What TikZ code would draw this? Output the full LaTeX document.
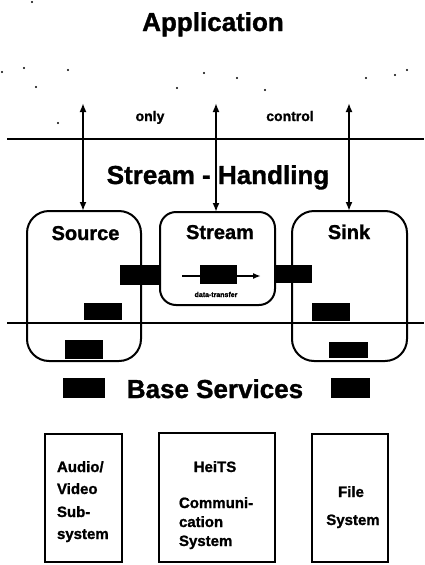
\documentclass[tikz,border=0pt]{standalone}
\usepackage{fontspec}
\setmainfont{Liberation Sans}[BoldFeatures={FakeBold=1.2}]
\usetikzlibrary{arrows.meta}
\begin{document}
\begin{tikzpicture}[x=1pt,y=-1pt,
  every node/.style={inner sep=0pt,outer sep=0pt},
  bigtext/.style={font=\fontsize{26}{30}\selectfont\bfseries,anchor=base},
  midtext/.style={font=\fontsize{20}{24}\selectfont\bfseries,anchor=base},
  smalltext/.style={font=\fontsize{14}{16}\selectfont\bfseries,anchor=base},
  boxtext/.style={font=\fontsize{15}{18}\selectfont\bfseries},
  tinytext/.style={font=\fontsize{7}{8}\selectfont\bfseries,anchor=base},
  procbox/.style={draw,line width=2pt,rounded corners=22pt},
  basebox/.style={draw,line width=2.2pt},
  blk/.style={fill=black},
  layer/.style={line width=2.5pt},
  ctrl/.style={line width=2pt,{Latex[length=9pt,width=7pt]}-{Latex[length=9pt,width=7pt]}},
  speck/.style={fill=black}
]
\fill[white] (0,0) rectangle (424,565);
\useasboundingbox (0,0) rectangle (424,565);

% title
\node[bigtext] (app) at (213,31) {Application};

% specks
\foreach \px/\py in {2/72,24/68,36/87,68/70,58/123,177/88,204/73,237/78,265/90,366/78,395/75,407/70,32/2}
  \fill[speck] (\px,\py) circle (1.2pt);

% layer lines
\coordinate (t1) at (7,139);
\coordinate (t2) at (424,139);
\coordinate (u1) at (7,323);
\coordinate (u2) at (424,323);
\draw[layer] (t1) -- (t2);
\draw[layer] (u1) -- (u2);

% control labels
\node[smalltext] (only) at (150,121) {only};
\node[smalltext] (control) at (290,121) {control};

\node[bigtext] (sh) at (218,184) {Stream - Handling};

% processing boxes
\node[procbox,minimum width=114pt,minimum height=150pt] (source) at (84,286) {};
\node[procbox,rounded corners=16pt,minimum width=115pt,minimum height=93pt] (stream) at (217.5,258.5) {};
\node[procbox,minimum width=115pt,minimum height=150pt] (sink) at (349.5,286) {};

\node[midtext] (sourcet) at (85.5,240) {Source};
\node[midtext] (streamt) at (220,239) {Stream};
\node[midtext] (sinkt) at (349,239) {Sink};

% control arrows
\coordinate (c1) at (83,103);
\coordinate (c2) at (216,103);
\coordinate (c3) at (349,103);
\draw[ctrl] (c1) -- (c1 |- source.north);
\draw[ctrl] (c2) -- (c2 |- stream.north);
\draw[ctrl] (c3) -- (c3 |- sink.north);

% data transfer inside stream
\coordinate (d1) at (182,276);
\coordinate (d2) at (261,276);
\draw[line width=1.6pt,-{Latex[length=8pt,width=6pt]}] (d1) -- (d2);
\node[blk,minimum width=37pt,minimum height=19pt] (k7) at (218.5,274.5) {};
\node[tinytext] (dt) at (216,297) {data-transfer};

% black blocks
\node[blk,minimum width=40pt,minimum height=20pt] (k1) at (140,275) {};
\node[blk,minimum width=38pt,minimum height=17pt] (k2) at (103,311.5) {};
\node[blk,minimum width=38pt,minimum height=19pt] (k3) at (84,349.5) {};
\node[blk,minimum width=37pt,minimum height=18pt] (k4) at (293.5,274) {};
\node[blk,minimum width=38pt,minimum height=18pt] (k5) at (331,312) {};
\node[blk,minimum width=39pt,minimum height=16pt] (k6) at (348.5,350) {};

% base services
\node[blk,minimum width=42pt,minimum height=20pt] (k8) at (84,388) {};
\node[bigtext] (bs) at (215,398) {Base Services};
\node[blk,minimum width=39pt,minimum height=20pt] (k9) at (350.5,388) {};

% base boxes
\node[basebox,minimum width=77pt,minimum height=128pt] (av) at (83.5,498) {};
\node[basebox,minimum width=116pt,minimum height=129pt] (heits) at (217,497.5) {};
\node[basebox,minimum width=76pt,minimum height=128pt] (fs) at (350,498) {};

\node[boxtext,anchor=base west] (av1) at (57,472) {Audio/};
\node[boxtext,anchor=base west] (av2) at (57,494) {Video};
\node[boxtext,anchor=base west] (av3) at (57,517) {Sub-};
\node[boxtext,anchor=base west] (av4) at (57,539) {system};

\node[boxtext,anchor=base] (h1) at (215,472) {HeiTS};
\node[boxtext,anchor=base west] (h2) at (179,508) {Communi-};
\node[boxtext,anchor=base west] (h3) at (179,527) {cation};
\node[boxtext,anchor=base west] (h4) at (179,546) {System};

\node[boxtext,anchor=base] (f1) at (351,497) {File};
\node[boxtext,anchor=base] (f2) at (353,525) {System};
\end{tikzpicture}
\end{document}
